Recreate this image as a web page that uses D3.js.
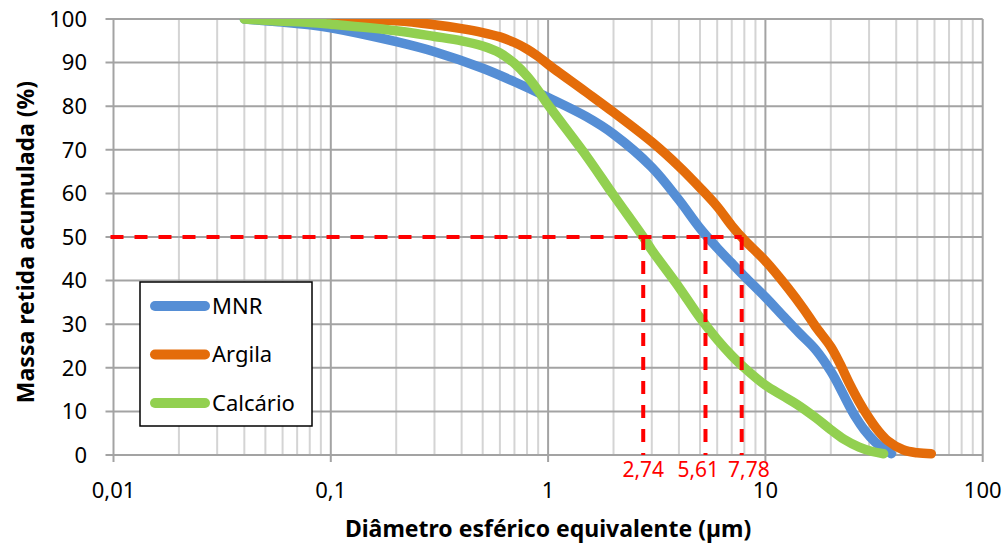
<!DOCTYPE html>
<html>
<head>
<meta charset="utf-8">
<script src="https://cdn.jsdelivr.net/npm/d3@7"></script>
<style>
  body { margin: 0; background: #fff; }
  text { font-family: "Noto Sans", sans-serif; fill: #000; }
</style>
</head>
<body>
<script>
// particle size curves (diameter in µm, cumulative retained mass in %)
const mnrDiam = [0.04, 0.05, 0.06, 0.08, 0.1, 0.2, 0.3, 0.5, 0.7, 1, 1.5, 2, 3, 4, 5, 6, 7, 8, 10, 12, 14.3, 17, 20, 22, 24, 26, 28.5, 32, 35, 38];
const mnrMass = [100, 99.6, 99.3, 98.7, 98, 94.8, 92.5, 88.7, 85.6, 82, 77.6, 73.6, 66, 58.5, 52, 47.5, 44, 41, 36.2, 32, 28, 24.2, 19.2, 15.5, 11.8, 8.7, 5.8, 3, 1.5, 0.3];

const argilaDiam = [0.08, 0.1, 0.2, 0.3, 0.4, 0.5, 0.6, 0.7, 0.8, 0.9, 1, 1.5, 2, 3, 4, 5, 6, 7, 8, 10, 12.7, 15, 17, 20, 22, 24.3, 27, 29.7, 33, 36.5, 43, 50, 58];
const argilaMass = [100, 100, 99.6, 98.7, 97.8, 96.9, 95.9, 94.6, 93.1, 91.4, 89.6, 83.2, 78.6, 71.8, 66.2, 61.3, 57, 52.6, 49.3, 44.5, 38.3, 33.5, 29.5, 24.8, 21, 16.5, 12.2, 8.8, 5.6, 3.3, 1.2, 0.5, 0.3];

const calcarioDiam = [0.04, 0.05, 0.06, 0.08, 0.1, 0.2, 0.3, 0.4, 0.5, 0.6, 0.7, 0.8, 0.9, 1, 1.5, 2, 2.74, 3, 4, 5, 6, 7, 8, 10, 12, 14, 17, 20, 23, 27, 31, 35];
const calcarioMass = [100, 99.7, 99.5, 99.2, 98.8, 97.3, 96, 95, 93.8, 92.2, 89.8, 86.9, 83.6, 80.3, 68.6, 59.6, 50, 47, 38.5, 31.5, 26.5, 22.8, 20, 16, 13.6, 11.6, 8.6, 5.8, 3.6, 1.8, 0.8, 0.3];

const seriesNames = ["MNR", "Argila", "Calcário"];
const seriesColors = ["#558ED5", "#E46C0A", "#92D050"];

const xTicks = [0.01, 0.1, 1, 10, 100];
const yTicks = [0, 10, 20, 30, 40, 50, 60, 70, 80, 90, 100];

// D50 markers: where the dashed lines sit on the chart, and their labels
const d50Diam = [2.74, 5.3, 7.78];
const d50Labels = ["2,74", "5,61", "7,78"];
const refMass = 50;

function main() {
  const svgWidth = 1006, svgHeight = 545;
  const left = 113.5, right = 982.7, top = 19, bottom = 455;

  const svg = d3.select("body").append("svg")
    .attr("width", svgWidth)
    .attr("height", svgHeight);

  const x = d3.scaleLog().domain([0.01, 100]).range([left, right]);
  const y = d3.scaleLinear().domain([0, 100]).range([bottom, top]);

  const pt = d3.formatLocale({ decimal: ",", thousands: ".", grouping: [3], currency: ["", ""] });
  const fmt = pt.format("~g");

  // minor vertical gridlines
  const minors = [];
  for (let k = -2; k < 2; k++) for (let m = 2; m <= 9; m++) minors.push(m * Math.pow(10, k));
  svg.append("g").selectAll("line").data(minors).enter().append("line")
    .attr("x1", d => x(d)).attr("x2", d => x(d))
    .attr("y1", top).attr("y2", bottom)
    .attr("stroke", "#d4d4d4").attr("stroke-width", 2);

  // horizontal gridlines (with left tick stubs)
  svg.append("g").selectAll("line").data(yTicks).enter().append("line")
    .attr("x1", left - 8).attr("x2", right)
    .attr("y1", d => y(d)).attr("y2", d => y(d))
    .attr("stroke", "#a3a3a3").attr("stroke-width", 2);

  // major vertical gridlines (with bottom tick stubs)
  svg.append("g").selectAll("line").data(xTicks).enter().append("line")
    .attr("x1", d => x(d)).attr("x2", d => x(d))
    .attr("y1", top).attr("y2", bottom + 7)
    .attr("stroke", "#a3a3a3").attr("stroke-width", 2);

  // tick labels
  svg.append("g").selectAll("text").data(yTicks).enter().append("text")
    .attr("x", 87).attr("y", d => y(d)).attr("dy", "0.35em")
    .attr("text-anchor", "end").attr("font-size", 22)
    .text(d => d);

  svg.append("g").selectAll("text").data(xTicks).enter().append("text")
    .attr("x", d => x(d)).attr("y", 498)
    .attr("text-anchor", "middle").attr("font-size", 22)
    .text(d => fmt(d));

  // axis titles
  svg.append("text")
    .attr("x", x(1)).attr("y", 537)
    .attr("text-anchor", "middle").attr("font-size", 23).attr("font-weight", "bold")
    .text("Diâmetro esférico equivalente (µm)");

  svg.append("text")
    .attr("transform", "translate(34," + ((top + bottom) / 2 + 5) + ") rotate(-90)")
    .attr("text-anchor", "middle").attr("font-size", 23).attr("font-weight", "bold")
    .text("Massa retida acumulada (%)");

  // curves
  svg.append("clipPath").attr("id", "plotClip")
    .append("rect").attr("x", left - 20).attr("y", top)
    .attr("width", right - left + 40).attr("height", bottom - top + 20);

  const series = [
    { name: seriesNames[0], color: seriesColors[0], pts: d3.zip(mnrDiam, mnrMass) },
    { name: seriesNames[1], color: seriesColors[1], pts: d3.zip(argilaDiam, argilaMass) },
    { name: seriesNames[2], color: seriesColors[2], pts: d3.zip(calcarioDiam, calcarioMass) }
  ];

  const line = d3.line()
    .x(d => x(d[0]))
    .y(d => y(d[1]))
    .curve(d3.curveCatmullRom.alpha(0.5));

  svg.append("g").attr("clip-path", "url(#plotClip)")
    .selectAll("path").data(series).enter().append("path")
    .attr("d", d => line(d.pts))
    .attr("fill", "none")
    .attr("stroke", d => d.color)
    .attr("stroke-width", 9.5)
    .attr("stroke-linecap", "round")
    .attr("stroke-linejoin", "round");

  // red dashed D50 guides
  const red = "#ff0000";
  const guides = svg.append("g")
    .attr("stroke", red).attr("stroke-width", 4).attr("stroke-dasharray", "13,11");
  guides.append("line")
    .attr("x1", left - 3).attr("x2", x(d3.max(d50Diam)))
    .attr("y1", y(refMass)).attr("y2", y(refMass));
  guides.selectAll("line.v").data(d50Diam).enter().append("line")
    .attr("class", "v")
    .attr("x1", d => x(d)).attr("x2", d => x(d))
    .attr("y1", y(refMass)).attr("y2", y(0));

  const labels = svg.append("g").selectAll("text").data(d50Labels).enter().append("text")
    .attr("y", 477).attr("text-anchor", "middle").attr("font-size", 21)
    .style("fill", red)
    .text(d => d);

  // push labels apart so they don't overlap
  const pos = d50Diam.map(d => x(d));
  const widths = labels.nodes().map(n => n.getComputedTextLength());
  for (let it = 0; it < 50; it++) {
    for (let i = 1; i < pos.length; i++) {
      const need = (widths[i - 1] + widths[i]) / 2 + 9;
      const gap = pos[i] - pos[i - 1];
      if (gap < need) {
        const s = (need - gap) / 2;
        pos[i - 1] -= s;
        pos[i] += s;
      }
    }
  }
  labels.attr("x", (d, i) => pos[i]);

  // legend
  const lg = svg.append("g").attr("transform", "translate(140,282)");
  lg.append("rect")
    .attr("width", 172).attr("height", 144)
    .attr("fill", "#fff").attr("stroke", "#000").attr("stroke-width", 1.5);
  const item = lg.selectAll("g").data(series).enter().append("g")
    .attr("transform", (d, i) => "translate(0," + (24 + i * 48.5) + ")");
  item.append("line")
    .attr("x1", 15).attr("x2", 65)
    .attr("stroke", d => d.color).attr("stroke-width", 10)
    .attr("stroke-linecap", "round");
  item.append("text")
    .attr("x", 72).attr("dy", "0.35em").attr("font-size", 22)
    .text(d => d.name);
}

main();
</script>
</body>
</html>
